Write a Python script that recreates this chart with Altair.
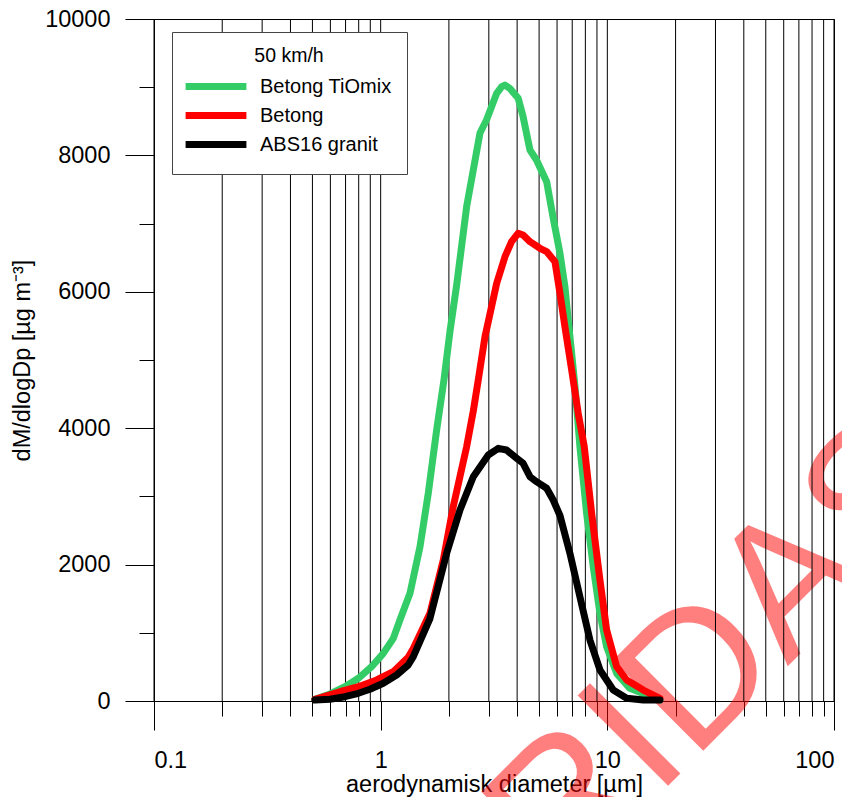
import altair as alt
import pandas as pd

FONT = "Liberation Sans"

SERIES = ["Betong TiOmix", "Betong", "ABS16 granit"]
COLORS = ["#33CC66", "#FF0000", "#000000"]

green_x = [0.513, 0.598, 0.696, 0.797, 0.912, 1.027, 1.137, 1.216, 1.347, 1.491, 1.622, 1.766,
           1.902, 2.022, 2.164, 2.395, 2.742, 2.93, 3.25, 3.42, 3.535, 3.71, 4.046, 4.25,
           4.557, 4.87, 5.398, 5.77, 6.18, 6.5, 6.72, 6.96, 7.2, 7.57, 8.101, 8.666, 9.277,
           9.929, 10.99, 12.58, 14.91, 17.06]
green_y = [25, 103, 210, 333, 503, 699, 919, 1188, 1579, 2262, 3045, 3974,
           4707, 5420, 6100, 7248, 8328, 8519, 8911, 9008, 9032, 8984, 8837, 8567,
           8079, 7933, 7614, 7080, 6565, 6075, 5587, 5098, 4609, 3729, 2752, 1969, 1286,
           796, 406, 186, 88, 15]

red_x = [0.513, 0.661, 0.797, 0.96, 1.137, 1.323, 1.393, 1.650, 1.889, 2.090, 2.395, 2.562,
         2.695, 2.885, 3.25, 3.535, 3.78, 4.046, 4.25, 4.557, 5.044, 5.398, 5.873, 6.18,
         6.5, 6.96, 7.44, 7.91, 8.527, 9.277, 9.929, 10.99, 12.17, 14.40, 17.06]
red_y = [25, 136, 210, 308, 430, 640, 770, 1286, 2067, 2849, 3729, 4250,
         4707, 5342, 6125, 6515, 6735, 6858, 6833, 6735, 6638, 6590, 6442, 5978,
         5488, 4853, 4218, 3729, 2752, 1774, 1041, 503, 308, 161, 40]

black_x = [0.513, 0.598, 0.696, 0.797, 0.897, 1.027, 1.176, 1.323, 1.393, 1.650, 1.955, 2.238,
           2.562, 2.984, 3.302, 3.59, 3.98, 4.25, 4.557, 4.87, 5.398, 5.77, 6.18, 6.839,
           7.568, 8.381, 9.277, 10.62, 12.17, 14.40, 17.06]
black_y = [15, 25, 63, 113, 172, 260, 381, 528, 650, 1210, 2166, 2801,
           3289, 3607, 3705, 3680, 3559, 3485, 3289, 3216, 3119, 2947, 2720, 2166,
           1529, 894, 455, 161, 40, 15, 15]

LEGEND_TITLE = "50 km/h"
X_TITLE = "aerodynamisk diameter [µm]"
Y_TITLE = "dM/dlogDp [µg m⁻³]"
X_MAJOR = [0.1, 1, 10, 100]
X_MINOR = [0.1, 0.2, 0.3, 0.4, 0.5, 0.6, 0.7, 0.8, 0.9,
           1, 2, 3, 4, 5, 6, 7, 8, 9,
           10, 20, 30, 40, 50, 60, 70, 80, 90, 100]
Y_MAJOR = [0, 2000, 4000, 6000, 8000, 10000]
Y_MINOR = [1000, 3000, 5000, 7000, 9000]
WATERMARK = "RIDAS"

rows = []
for name, xs, ys in zip(SERIES, [green_x, red_x, black_x], [green_y, red_y, black_y]):
    for i, (a, b) in enumerate(zip(xs, ys)):
        rows.append({"series": name, "d": a, "v": b, "i": i})
df = pd.DataFrame(rows)

xscale = alt.Scale(type="log", domain=[0.1, 100])
yscale = alt.Scale(domain=[0, 10000])

wm = alt.Chart(pd.DataFrame({"t": [WATERMARK]})).mark_text(
    align="left", baseline="alphabetic", angle=315, fontSize=186, font=FONT,
    color="#FF0000", opacity=0.5
).encode(x=alt.value(407), y=alt.value(874), text="t:N")

grid = alt.Chart(pd.DataFrame({"g": X_MINOR})).mark_rule(color="black", strokeWidth=1).encode(
    x=alt.X("g:Q", scale=xscale, axis=None),
    y=alt.YDatum(0, scale=yscale, axis=None),
    y2=alt.Y2Datum(10000),
)

lines = alt.Chart(df).mark_line(strokeWidth=7, strokeCap="round", strokeJoin="round").encode(
    x=alt.X("d:Q", scale=xscale,
            axis=alt.Axis(orient="bottom", values=X_MINOR, labels=False, tickSize=15,
                          grid=False, title="")),
    y=alt.Y("v:Q", scale=yscale,
            axis=alt.Axis(orient="left", values=Y_MINOR, labels=False, tickSize=15,
                          grid=False, title="")),
    color=alt.Color("series:N", scale=alt.Scale(domain=SERIES, range=COLORS),
                    legend=alt.Legend(
                        title=LEGEND_TITLE, orient="none", legendX=18, legendY=13,
                        direction="vertical", fillColor="white", strokeColor="#444",
                        padding=15, symbolType="M-7.6,0H7.6", symbolSize=64,
                        symbolStrokeWidth=7, symbolOffset=19, labelOffset=34,
                        labelFontSize=20, labelFont=FONT, titleFont=FONT,
                        titleFontSize=19.5, titleFontWeight="normal", titleAnchor="middle",
                        titlePadding=10, rowPadding=1, labelColor="black",
                        titleColor="black")),
    order="i:Q",
)

major = alt.Chart(df).mark_line(strokeOpacity=0).encode(
    x=alt.X("d:Q", scale=xscale,
            axis=alt.Axis(orient="bottom", values=X_MAJOR, tickSize=29, labelPadding=18,
                          grid=False, title=X_TITLE, format="~g", titlePadding=1)),
    y=alt.Y("v:Q", scale=yscale,
            axis=alt.Axis(orient="left", values=Y_MAJOR, tickSize=29, labelPadding=15,
                          grid=False, title=Y_TITLE, format="d", titlePadding=10)),
    detail="series:N",
)

chart = alt.layer(wm, grid, lines, major).resolve_axis(
    x="independent", y="independent"
).properties(
    width=680, height=682,
    autosize=alt.AutoSizeParams(type="none"),
    padding={"left": 146, "top": 11, "right": 8, "bottom": 96},
).configure_view(
    stroke="black", strokeWidth=1
).configure_axis(
    labelFont=FONT, titleFont=FONT, labelFontSize=23.5, titleFontSize=23.5,
    titleFontWeight="normal", labelColor="black", titleColor="black",
    domainColor="black", tickColor="black", tickWidth=1, domainWidth=1,
)

chart.save("out.html", embed_options={"renderer": "svg", "actions": False})
